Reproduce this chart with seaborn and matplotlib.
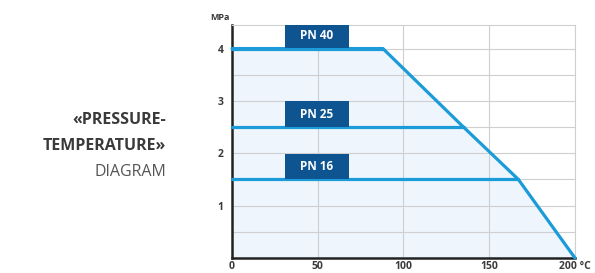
import matplotlib
matplotlib.use("Agg")
import matplotlib.pyplot as plt
import seaborn as sns
import pandas as pd

# Data
env_temp = [0, 88, 135, 167, 200]
env_pressure = [4.0, 4.0, 2.5, 1.5, 0.0]
pn_names = ["PN 40", "PN 25", "PN 16"]
pn_pressure = [4.0, 2.5, 1.5]
pn_limit_temp = [88, 135, 167]
x_ticks = [0, 50, 100, 150, 200]
x_tick_labels = ["0", "50", "100", "150", "200 °C"]
y_ticks = [1, 2, 3, 4]

sns.set_theme(style="white")
plt.rcParams['font.family'] = ['Open Sans', 'DejaVu Sans']

line_color = "#1b9bd7"
box_color = "#0d5491"
text_gray = "#3a3a3a"

fig = plt.figure(figsize=(5.95, 2.73), dpi=100)
ax = fig.add_axes([232/595, 15/273, (575-232)/595, (258-25)/273])

env = pd.DataFrame({"T": env_temp, "P": env_pressure})
ax.fill_between(env["T"], env["P"], 0, color="#eef5fc", zorder=0)

for name, p, t in zip(pn_names, pn_pressure, pn_limit_temp):
    df = pd.DataFrame({"T": [0, t], "P": [p, p]})
    sns.lineplot(data=df, x="T", y="P", ax=ax, color=line_color, lw=2.3,
                 clip_on=False, zorder=3)
    ax.bar(31, 0.48, bottom=p + 0.01, width=37, align="edge",
           color=box_color, edgecolor="none", linewidth=0, zorder=4)
    ax.text(31 + 18.5, p + 0.01 + 0.24, name, color="white", ha="center",
            va="center", fontsize=8.5, fontweight="bold", zorder=5)

sns.lineplot(data=env, x="T", y="P", ax=ax, color=line_color, lw=2.3,
             clip_on=False, zorder=3)

ax.set_xlim(0, 200)
ax.set_ylim(0, 4.45)
ax.set_xticks(x_ticks)
ax.set_xticklabels(x_tick_labels)
ax.set_yticks(y_ticks)
ax.set_yticks([0.5, 1.5, 2.5, 3.5], minor=True)
ax.grid(True, which="major", color="#cfcfcf", lw=0.8)
ax.yaxis.grid(True, which="minor", color="#cfcfcf", lw=0.8)
ax.set_axisbelow(True)
ax.tick_params(axis="both", which="both", length=0, labelsize=7.5,
               colors=text_gray)
ax.tick_params(axis="y", pad=6)
ax.tick_params(axis="x", pad=2)
for lab in ax.get_yticklabels() + ax.get_xticklabels():
    lab.set_fontweight("bold")
ax.set_xlabel("")
ax.set_ylabel("")

for s in ["top", "right"]:
    ax.spines[s].set_color("#d0d0d0")
    ax.spines[s].set_linewidth(0.8)
for s in ["left", "bottom"]:
    ax.spines[s].set_color("#222222")
    ax.spines[s].set_linewidth(1.8)

fig.text(220/595, 1 - 17/273, "MPa", ha="center", va="center",
         fontsize=6.5, fontweight="bold", color=text_gray)

fig.text(166/595, 1 - 120/273, "«PRESSURE-", ha="right", va="center",
         fontsize=11.5, fontweight="bold", color=text_gray, fontstretch="condensed")
fig.text(166/595, 1 - 146/273, "TEMPERATURE»", ha="right", va="center",
         fontsize=11.5, fontweight="bold", color=text_gray, fontstretch="condensed")
fig.text(166/595, 1 - 172/273, "DIAGRAM", ha="right", va="center",
         fontsize=11.5, color="#555555")

fig.savefig("out.png", dpi=100)
